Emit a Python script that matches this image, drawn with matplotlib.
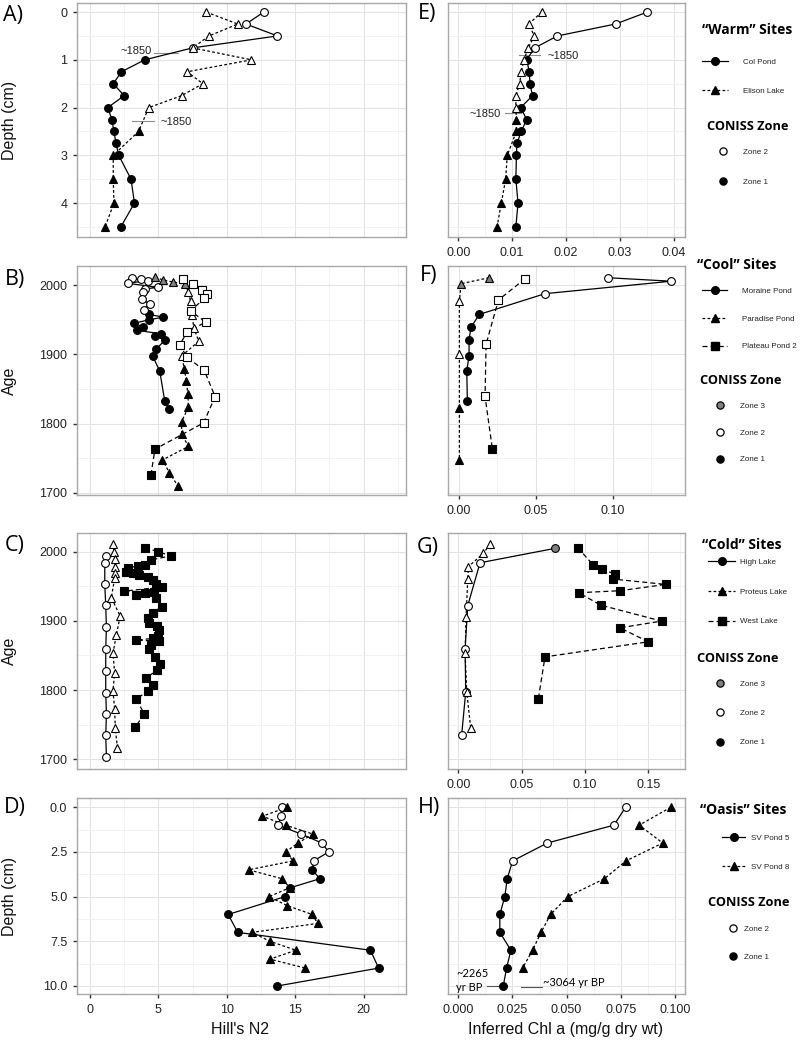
import matplotlib.pyplot as plt
from matplotlib.lines import Line2D
from matplotlib.ticker import MultipleLocator, FormatStrFormatter

plt.rcParams['font.family'] = ['Liberation Sans', 'DejaVu Sans']

# ---- A / E : "Warm" sites (depth, cm) ----
col_depth_a = [0, 0.25, 0.5, 0.75, 1.0, 1.25, 1.5, 1.75, 2.0, 2.25, 2.5, 2.75, 3.0, 3.5, 4.0, 4.5]
col_n2 = [12.7, 11.4, 13.7, 7.5, 4.0, 2.3, 1.7, 2.5, 1.3, 1.6, 1.75, 1.9, 2.1, 3.0, 3.25, 2.25]
col_zone_a = [2, 2, 2, 2, 1, 1, 1, 1, 1, 1, 1, 1, 1, 1, 1, 1]
eli_depth_a = [0, 0.25, 0.5, 0.75, 1.0, 1.25, 1.5, 1.75, 2.0, 2.5, 3.0, 3.5, 4.0, 4.5]
eli_n2 = [8.5, 10.8, 8.7, 7.5, 11.8, 7.1, 8.25, 6.7, 4.3, 3.55, 1.7, 1.7, 1.75, 1.1]
eli_zone_a = [2, 2, 2, 2, 2, 2, 2, 2, 2, 1, 1, 1, 1, 1]

col_chl = [0.0351, 0.0292, 0.0184, 0.0142, 0.0127, 0.0132, 0.0133, 0.0138,
           0.0116, 0.0127, 0.0117, 0.0109, 0.0108, 0.0107, 0.0111, 0.0107]
eli_depth_e = [0, 0.25, 0.5, 0.75, 1.0, 1.25, 1.5, 1.75, 2.0, 2.25, 2.5, 3.0, 3.5, 4.0, 4.5]
eli_chl = [0.0155, 0.0131, 0.0141, 0.0130, 0.0122, 0.0117, 0.0114, 0.0107, 0.0107,
           0.0108, 0.0108, 0.0091, 0.0088, 0.0080, 0.0072]
eli_zone_e = [2, 2, 2, 2, 2, 2, 2, 2, 2, 1, 1, 1, 1, 1, 1]

# ---- B / F : "Cool" sites (age) ----
mor_age_b = [2010, 2008.5, 2007, 2003, 1997, 1995, 1990, 1980, 1973, 1965,
             1958, 1954, 1950, 1945, 1940, 1935, 1930, 1927, 1921, 1908, 1898, 1876, 1833, 1821]
mor_n2 = [3.1, 3.7, 4.25, 2.75, 5.0, 4.0, 3.9, 3.8, 4.35, 3.95,
          4.33, 5.34, 4.28, 3.2, 3.9, 3.41, 5.17, 4.74, 5.48, 4.86, 4.57, 5.1, 5.46, 5.77]
mor_zone_b = [2] * 10 + [1] * 14
par_age_b = [2012, 2007.7, 2004.8, 2001.5, 1990, 1977, 1957, 1938, 1919, 1898,
             1879, 1861, 1843, 1824, 1803, 1785, 1767, 1747.5, 1729, 1709]
par_n2 = [4.76, 5.34, 6.08, 6.97, 7.2, 7.35, 7.45, 7.6, 7.95, 6.7,
          6.9, 7.05, 7.15, 7.2, 6.7, 6.7, 7.2, 5.3, 5.8, 6.45]
par_zone_b = [3] * 4 + [2] * 6 + [1] * 10
pla_age_b = [2009, 2002, 1994, 1988, 1981, 1963, 1947, 1932, 1914, 1896, 1877, 1839, 1801, 1763, 1725]
pla_n2 = [6.8, 7.55, 8.2, 8.55, 8.35, 7.35, 8.45, 7.1, 6.55, 7.1, 8.35, 9.15, 8.3, 4.75, 4.45]
pla_zone_b = [2] * 13 + [1] * 2

mor_age_f = [2011, 2006, 1988, 1958, 1939.5, 1921.6, 1897.4, 1876.6, 1833]
mor_chl = [0.097, 0.138, 0.056, 0.0132, 0.0078, 0.0065, 0.0065, 0.0050, 0.0054]
mor_zone_f = [2, 2, 2, 1, 1, 1, 1, 1, 1]
par_age_f = [2011, 2002.4, 1977, 1900, 1822, 1747]
par_chl = [0.0195, 0.0013, 0.0002, 0.0002, 0.0002, 0.0002]
par_zone_f = [3, 3, 2, 2, 1, 1]
pla_age_f = [2009.7, 1978.7, 1915, 1839.4, 1763]
pla_chl = [0.043, 0.0256, 0.0176, 0.0169, 0.0217]
pla_zone_f = [2, 2, 2, 2, 1]

# ---- C / G : "Cold" sites (age) ----
hig_age_c = [1994, 1984, 1952.7, 1923, 1890.5, 1859, 1827.8, 1796.4, 1766, 1734.7, 1703]
hig_n2 = [1.2, 1.08, 1.08, 1.15, 1.2, 1.15, 1.15, 1.15, 1.2, 1.15, 1.2]
hig_zone_c = [2] * 11
pro_age_c = [2011, 2000, 1989, 1978, 1968.6, 1961.4, 1933.4, 1907, 1879.4, 1853,
             1825.4, 1798.8, 1772.3, 1745.3, 1716.8]
pro_n2 = [1.68, 1.75, 1.8, 1.85, 1.85, 1.8, 1.56, 2.21, 1.92, 1.68, 1.8, 1.68, 1.8, 1.85, 2.0]
pro_zone_c = [2] * 15
wes_age_c = [2005.8, 2000, 1994, 1988, 1980.7, 1979.7, 1975.9, 1971, 1968.6, 1966, 1963.8,
             1959, 1954, 1949, 1943, 1941.5, 1940.5, 1937, 1932.5, 1920.4, 1912, 1903.5,
             1896.3, 1893, 1886.6, 1878.4, 1874.6, 1872.2, 1870.7, 1865, 1859, 1848,
             1838.4, 1828.8, 1817.7, 1807, 1798.4, 1786.8, 1766, 1746.7]
wes_n2 = [4.01, 4.98, 5.89, 4.45, 4.01, 3.49, 2.76, 2.64, 3.13, 3.61, 4.21,
          4.57, 4.81, 5.29, 2.52, 4.69, 4.01, 3.37, 4.81, 5.24, 4.57, 4.21,
          4.28, 4.93, 5.05, 5.0, 4.57, 3.37, 5.05, 4.45, 4.33, 4.76,
          5.1, 4.93, 4.09, 4.57, 4.21, 3.37, 3.97, 3.32]
wes_zone_c = [1] * 40

hig_age_g = [2004.8, 1984, 1922, 1859, 1797, 1735.6]
hig_chl = [0.0763, 0.0171, 0.0074, 0.0053, 0.0058, 0.0026]
hig_zone_g = [3, 2, 2, 2, 2, 2]
pro_age_g = [2011, 1997.6, 1978.3, 1960.4, 1906, 1853, 1797.4, 1745.3]
pro_chl = [0.025, 0.0197, 0.0079, 0.0074, 0.0061, 0.0053, 0.0066, 0.0097]
pro_zone_g = [2] * 8
wes_age_g = [2005.8, 1980.7, 1974.4, 1967.7, 1960.4, 1952.7, 1943.6, 1940.7,
             1922.8, 1899.7, 1890, 1869.8, 1848, 1787.7]
wes_chl = [0.0942, 0.1066, 0.1137, 0.1237, 0.1224, 0.1637, 0.1276, 0.095,
           0.1124, 0.1605, 0.1276, 0.150, 0.0684, 0.0632]
wes_zone_g = [1] * 14

# ---- D / H : "Oasis" sites (depth, cm) ----
sv5_depth_d = [0, 0.5, 1.0, 1.5, 2.0, 2.5, 3.0, 3.5, 4.0, 4.5, 5.0, 6.0, 7.0, 8.0, 9.0, 10.0]
sv5_n2 = [14.0, 13.95, 13.75, 15.45, 16.95, 17.45, 16.35, 16.25, 16.8, 14.65, 14.25,
          10.1, 10.8, 20.5, 21.1, 13.7]
sv5_zone_d = [2] * 7 + [1] * 9
sv8_depth_d = [0, 0.5, 1.0, 1.5, 2.0, 2.5, 3.0, 3.5, 4.0, 4.5, 5.0, 5.5, 6.0, 6.5,
               7.0, 7.5, 8.0, 8.5, 9.0]
sv8_n2 = [14.4, 12.6, 14.3, 16.3, 15.2, 14.3, 14.85, 11.6, 14.05, 14.6, 13.1, 14.4,
          16.25, 16.65, 11.85, 13.15, 15.05, 13.15, 15.75]
sv8_zone_d = [1] * 19

sv5_depth_h = [0, 1, 2, 3, 4, 5, 6, 7, 8, 9, 10]
sv5_chl = [0.0772, 0.0718, 0.0411, 0.0251, 0.0226, 0.0215, 0.0192, 0.0192, 0.0243, 0.0223, 0.0208]
sv5_zone_h = [2, 2, 2, 2, 1, 1, 1, 1, 1, 1, 1]
sv8_depth_h = [0, 1, 2, 3, 4, 5, 6, 7, 8, 9]
sv8_chl = [0.098, 0.0835, 0.0943, 0.0774, 0.0674, 0.0505, 0.0426, 0.0382, 0.0343, 0.0297]
sv8_zone_h = [1] * 10

ZONE_COL = {1: 'black', 2: 'white', 3: '#808080'}
LS_TRI = (0, (2.2, 1.8))
LS_SQ = (0, (4, 2.5))
W, H = 800, 1042

fig = plt.figure(figsize=(8, 10.42), dpi=100)


def px_axes(x0, y0, x1, y1):
    return fig.add_axes([x0 / W, 1 - y1 / H, (x1 - x0) / W, (y1 - y0) / H])


def series(ax, x, y, zone, marker, ls, ms=5.6):
    ax.plot(x, y, color='black', ls=ls, lw=0.9, zorder=2)
    for z in (1, 2, 3):
        xs = [a for a, b in zip(x, zone) if b == z]
        ys = [a for a, b in zip(y, zone) if b == z]
        if xs:
            ax.plot(xs, ys, ls='none', marker=marker, ms=ms, mfc=ZONE_COL[z],
                    mec='black', mew=0.8, zorder=3)


def style(ax, xlim, ylim, xmaj, ymaj, left_col, show_x, xfmt=None, yfmt=None):
    ax.set_xlim(*xlim)
    ax.set_ylim(*ylim)
    ax.xaxis.set_major_locator(MultipleLocator(xmaj))
    ax.xaxis.set_minor_locator(MultipleLocator(xmaj / 2))
    ax.yaxis.set_major_locator(MultipleLocator(ymaj))
    ax.yaxis.set_minor_locator(MultipleLocator(ymaj / 2))
    ax.grid(True, which='major', color='#E3E3E3', lw=0.8)
    ax.grid(True, which='minor', color='#F0F0F0', lw=0.6)
    ax.set_axisbelow(True)
    for s in ax.spines.values():
        s.set_color('#A8A8A8')
        s.set_linewidth(1.0)
    ax.tick_params(which='minor', length=0)
    ax.tick_params(which='major', color='#333333', width=1.0, length=3,
                   labelsize=9, labelcolor='#222222')
    ax.tick_params(axis='y', pad=4)
    ax.tick_params(axis='x', pad=4)
    if left_col:
        ax.tick_params(axis='y', left=True, labelleft=True)
    else:
        ax.tick_params(axis='y', left=False, labelleft=False)
    ax.tick_params(axis='x', bottom=show_x, labelbottom=show_x)
    if xfmt:
        ax.xaxis.set_major_formatter(FormatStrFormatter(xfmt))
    if yfmt:
        ax.yaxis.set_major_formatter(FormatStrFormatter(yfmt))


rows = [(3, 237), (266, 495), (533, 769), (798, 994)]
LX = (77, 406)
RX = (448, 685)
left_xlim = (-0.95, 23.1)
ylims = [(4.71, -0.19), (1696.7, 2028), (1686, 2027), (10.45, -0.52)]

axA = px_axes(LX[0], rows[0][0], LX[1], rows[0][1])
axE = px_axes(RX[0], rows[0][0], RX[1], rows[0][1])
axB = px_axes(LX[0], rows[1][0], LX[1], rows[1][1])
axF = px_axes(RX[0], rows[1][0], RX[1], rows[1][1])
axC = px_axes(LX[0], rows[2][0], LX[1], rows[2][1])
axG = px_axes(RX[0], rows[2][0], RX[1], rows[2][1])
axD = px_axes(LX[0], rows[3][0], LX[1], rows[3][1])
axH = px_axes(RX[0], rows[3][0], RX[1], rows[3][1])

# A
series(axA, col_n2, col_depth_a, col_zone_a, 'o', '-')
series(axA, eli_n2, eli_depth_a, eli_zone_a, '^', LS_TRI, 6.2)
axA.plot([4.7, 6.4], [0.86, 0.86], color='#8C8C8C', lw=0.8, zorder=1)
axA.text(3.4, 0.82, '~1850', fontsize=8, ha='center', va='center', color='#222222')
axA.plot([3.1, 4.7], [2.28, 2.28], color='#8C8C8C', lw=0.8, zorder=1)
axA.text(6.3, 2.31, '~1850', fontsize=8, ha='center', va='center', color='#222222')
style(axA, left_xlim, ylims[0], 5, 1, True, False, yfmt='%d')

# E
series(axE, col_chl, col_depth_a, col_zone_a, 'o', '-')
series(axE, eli_chl, eli_depth_e, eli_zone_e, '^', LS_TRI, 6.2)
axE.plot([0.0113, 0.0151], [0.9, 0.9], color='#8C8C8C', lw=0.8, zorder=1)
axE.text(0.0195, 0.92, '~1850', fontsize=8, ha='center', va='center', color='#222222')
axE.plot([0.0087, 0.0117], [2.12, 2.12], color='#8C8C8C', lw=0.8, zorder=1)
axE.text(0.0049, 2.14, '~1850', fontsize=8, ha='center', va='center', color='#222222')
style(axE, (-0.0019, 0.0421), ylims[0], 0.01, 1, False, True, xfmt='%.2f')

# B
series(axB, mor_n2, mor_age_b, mor_zone_b, 'o', '-')
series(axB, par_n2, par_age_b, par_zone_b, '^', LS_TRI, 6.2)
series(axB, pla_n2, pla_age_b, pla_zone_b, 's', LS_SQ, 5.4)
style(axB, left_xlim, ylims[1], 5, 100, True, False, yfmt='%d')

# F
series(axF, mor_chl, mor_age_f, mor_zone_f, 'o', '-')
series(axF, par_chl, par_age_f, par_zone_f, '^', LS_TRI, 6.2)
series(axF, pla_chl, pla_age_f, pla_zone_f, 's', LS_SQ, 5.4)
style(axF, (-0.0072, 0.147), ylims[1], 0.05, 100, False, True, xfmt='%.2f')

# C
series(axC, hig_n2, hig_age_c, hig_zone_c, 'o', '-')
series(axC, pro_n2, pro_age_c, pro_zone_c, '^', LS_TRI, 6.2)
series(axC, wes_n2, wes_age_c, wes_zone_c, 's', LS_SQ, 5.4)
style(axC, left_xlim, ylims[2], 5, 100, True, False, yfmt='%d')

# G
series(axG, hig_chl, hig_age_g, hig_zone_g, 'o', '-')
series(axG, pro_chl, pro_age_g, pro_zone_g, '^', LS_TRI, 6.2)
series(axG, wes_chl, wes_age_g, wes_zone_g, 's', LS_SQ, 5.4)
style(axG, (-0.0082, 0.179), ylims[2], 0.05, 100, False, True, xfmt='%.2f')

# D
series(axD, sv5_n2, sv5_depth_d, sv5_zone_d, 'o', '-')
series(axD, sv8_n2, sv8_depth_d, sv8_zone_d, '^', LS_TRI, 6.2)
style(axD, left_xlim, ylims[3], 5, 2.5, True, True, xfmt='%d', yfmt='%.1f')

# H
series(axH, sv5_chl, sv5_depth_h, sv5_zone_h, 'o', '-')
series(axH, sv8_chl, sv8_depth_h, sv8_zone_h, '^', LS_TRI, 6.2)
axH.plot([0.0131, 0.0192], [10.0, 10.0], color='#555555', lw=0.8, zorder=1)
axH.plot([0.0288, 0.0385], [10.04, 10.04], color='#555555', lw=0.8, zorder=1)
axH.text(-0.0008, 9.29, '~2265', fontsize=8, family='Lato', ha='left', va='center')
axH.text(-0.0008, 10.09, 'yr BP', fontsize=8, family='Lato', ha='left', va='center')
axH.text(0.0392, 9.81, '~3064 yr BP', fontsize=8, family='Lato', ha='left', va='center')
style(axH, (-0.0047, 0.1046), ylims[3], 0.025, 2.5, False, True, xfmt='%.3f')

# axis labels
for ax, lab in [(axA, 'Depth (cm)'), (axB, 'Age'), (axC, 'Age'), (axD, 'Depth (cm)')]:
    ax.set_ylabel(lab, fontsize=11.5, color='#111111')
    ax.yaxis.set_label_coords(-0.182, 0.5)
axD.set_xlabel("Hill's N2", fontsize=11.5, color='#111111')
axD.xaxis.set_label_coords(0.495, -0.145)
axH.set_xlabel('Inferred Chl a (mg/g dry wt)', fontsize=11.5, color='#111111')
axH.xaxis.set_label_coords(0.494, -0.145)

# panel letters
for lab, x, y in [('A)', 3, 15), ('B)', 5, 279), ('C)', 5, 545), ('D)', 4, 807),
                  ('E)', 418, 14), ('F)', 420, 276), ('G)', 417, 547), ('H)', 418, 808)]:
    fig.text(x / W, 1 - y / H, lab, fontsize=15.5, family='Open Sans', ha='left', va='center')

# legends
LEG_FS = 5.8
LEG_PX = LEG_FS * 100 / 72


def site_handle(marker, ls):
    return Line2D([], [], color='black', ls=ls, lw=0.9, marker=marker, ms=5.5,
                  mfc='black', mec='black')


def zone_handle(z):
    return Line2D([], [], ls='none', marker='o', ms=5.2, mfc=ZONE_COL[z],
                  mec='black', mew=0.9)


def legend_block(title, tx, ty, handles, labels, hx, hlen, textx, first_y, pitch, tfs=10):
    fig.text(tx / W, 1 - ty / H, title, fontsize=tfs, fontweight='bold',
             family='Open Sans', ha='left', va='center')
    row_h = LEG_PX * 1.17
    leg = fig.legend(handles, labels, loc='upper left',
                     bbox_to_anchor=(hx / W, 1 - (first_y - row_h / 2) / H),
                     frameon=False, borderpad=0, borderaxespad=0,
                     fontsize=LEG_FS, handlelength=hlen / LEG_PX,
                     handletextpad=(textx - hx - hlen) / LEG_PX,
                     labelspacing=(pitch - row_h) / LEG_PX)
    for t in leg.get_texts():
        t.set_color('#222222')
    return leg


tri = site_handle('^', (0, (2.2, 1.8)))
sq = site_handle('s', (0, (4, 2.5)))
circ = site_handle('o', '-')
CZ = 9.2

legend_block('\u201cWarm\u201d Sites', 702, 30, [circ, tri], ['Col Pond', 'Elison Lake'],
             702, 26, 743, 63, 31)
legend_block('CONISS Zone', 707, 126, [zone_handle(2), zone_handle(1)], ['Zone 2', 'Zone 1'],
             715, 16, 743, 153, 32, CZ)
legend_block('\u201cCool\u201d Sites', 697, 265, [circ, tri, sq],
             ['Moraine Pond', 'Paradise Pond', 'Plateau Pond 2'], 702, 25, 742, 292, 29.5)
legend_block('CONISS Zone', 700, 380, [zone_handle(3), zone_handle(2), zone_handle(1)],
             ['Zone 3', 'Zone 2', 'Zone 1'], 712, 16, 740, 407, 28.5, CZ)
legend_block('\u201cCold\u201d Sites', 702, 545, [circ, tri, sq],
             ['High Lake', 'Proteus Lake', 'West Lake'], 708, 27, 740, 563, 31.5)
legend_block('CONISS Zone', 697, 658, [zone_handle(3), zone_handle(2), zone_handle(1)],
             ['Zone 3', 'Zone 2', 'Zone 1'], 712, 16, 740, 685, 31, CZ)
legend_block('\u201cOasis\u201d Sites', 700, 810, [circ, tri], ['SV Pond 5', 'SV Pond 8'],
             722, 23, 751, 839, 31)
legend_block('CONISS Zone', 708, 903, [zone_handle(2), zone_handle(1)], ['Zone 2', 'Zone 1'],
             726, 14, 744, 930, 30, CZ)

fig.savefig('out.png', dpi=100)
plt.close(fig)
